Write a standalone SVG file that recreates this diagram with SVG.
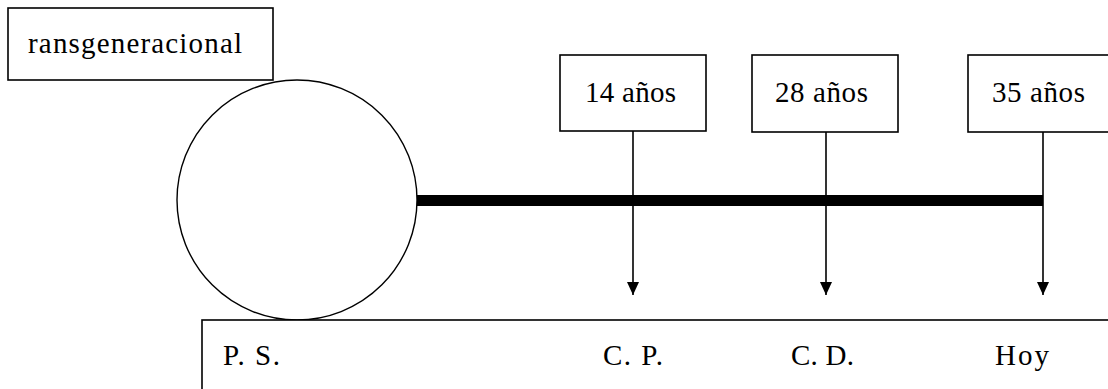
<svg xmlns="http://www.w3.org/2000/svg" width="1108" height="389" viewBox="0 0 1108 389">
<style>
.box{fill:#fff;stroke:#000;stroke-width:1.6}
.t{font-family:"Liberation Serif","Times New Roman",serif;font-size:29px;fill:#000}
.ln{stroke:#000;stroke-width:1.6;fill:none}
</style>
<defs>
<marker id="ah" markerWidth="13" markerHeight="12" refX="13" refY="6" orient="auto" markerUnits="userSpaceOnUse" viewBox="0 0 13 12">
<path d="M0,0 L13,6 L0,12 Z" fill="#000"/>
</marker>
</defs>
<rect width="1108" height="389" fill="#fff"/>
<g id="node-transgeneracional">
<rect class="box" x="8" y="8" width="265" height="72"/>
<text class="t" x="28" y="53" textLength="214" lengthAdjust="spacing">ransgeneracional</text>
</g>
<g id="node-circle">
<circle cx="297" cy="200" r="120" fill="#fff" stroke="#000" stroke-width="1.4"/>
</g>
<g id="node-timeline">
<rect class="box" x="202" y="320" width="920" height="90"/>
<text class="t" x="223" y="365" textLength="57" lengthAdjust="spacing">P. S.</text>
<text class="t" x="603" y="365" textLength="60" lengthAdjust="spacing">C. P.</text>
<text class="t" x="791" y="365" textLength="63" lengthAdjust="spacing">C. D.</text>
<text class="t" x="995" y="365" textLength="54" lengthAdjust="spacing">Hoy</text>
</g>
<g id="node-14">
<rect class="box" x="560" y="55" width="146" height="76"/>
<text class="t" x="585" y="102" textLength="91" lengthAdjust="spacing">14 años</text>
</g>
<g id="node-28">
<rect class="box" x="752" y="55" width="146" height="77"/>
<text class="t" x="775" y="102" textLength="93" lengthAdjust="spacing">28 años</text>
</g>
<g id="node-35">
<rect class="box" x="968" y="55" width="160" height="77"/>
<text class="t" x="992" y="102" textLength="93" lengthAdjust="spacing">35 años</text>
</g>
<g id="connectors">
<line x1="417" y1="200.5" x2="1043" y2="200.5" stroke="#000" stroke-width="11"/>
<line class="ln" x1="633" y1="131" x2="633" y2="295" marker-end="url(#ah)"/>
<line class="ln" x1="826" y1="132" x2="826" y2="295" marker-end="url(#ah)"/>
<line class="ln" x1="1043" y1="132" x2="1043" y2="295" marker-end="url(#ah)"/>
</g>
</svg>
